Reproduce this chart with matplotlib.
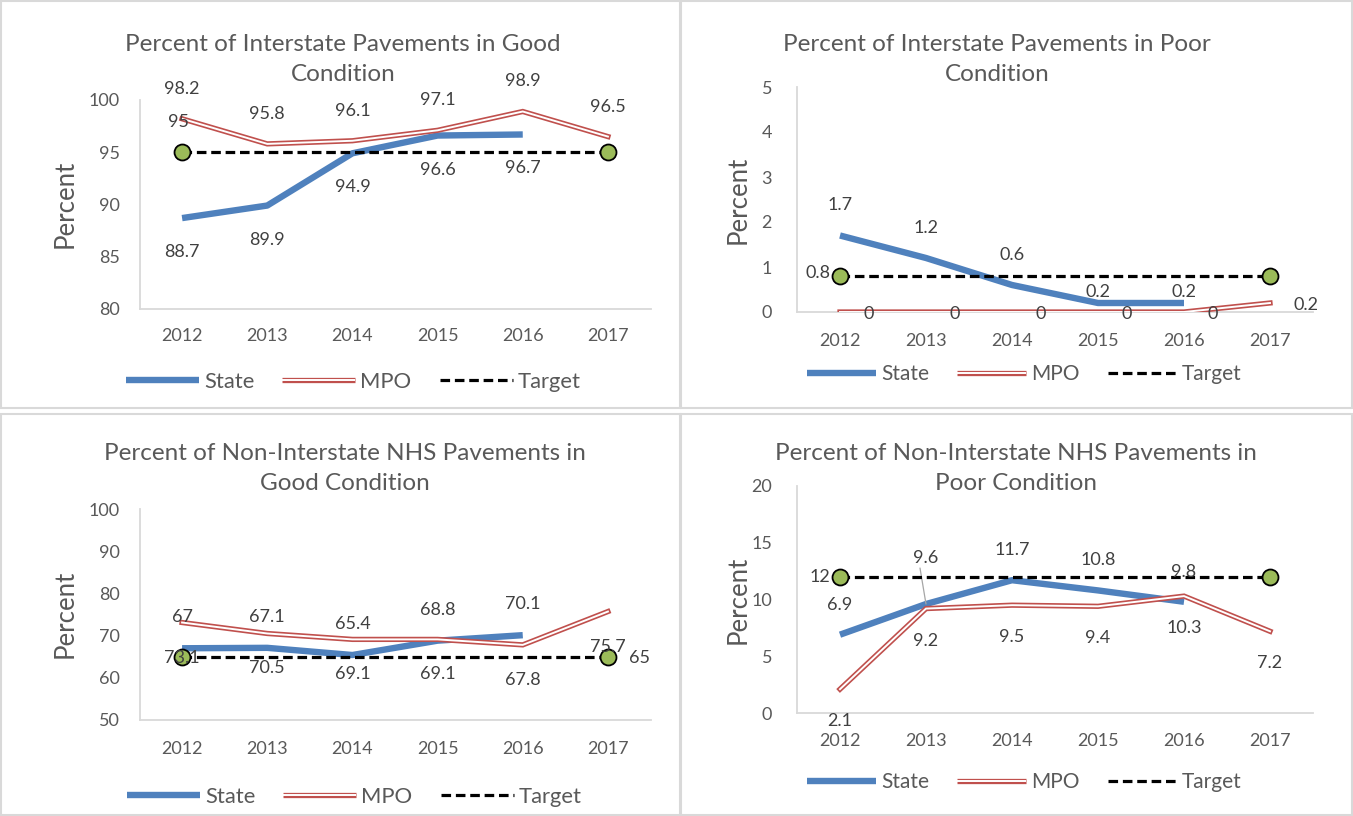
import matplotlib
matplotlib.use("Agg")
import matplotlib.pyplot as plt
from matplotlib.lines import Line2D
from matplotlib.patches import Rectangle
from matplotlib.legend_handler import HandlerTuple

plt.rcParams['font.family'] = ['Lato', 'DejaVu Sans']

# ---------------- data ----------------
years = ['2012', '2013', '2014', '2015', '2016', '2017']

good_int_state = [88.7, 89.9, 94.9, 96.6, 96.7]
good_int_mpo = [98.2, 95.8, 96.1, 97.1, 98.9, 96.5]
good_int_target = [95, 95]

poor_int_state = [1.7, 1.2, 0.6, 0.2, 0.2]
poor_int_mpo = [0, 0, 0, 0, 0, 0.2]
poor_int_target = [0.8, 0.8]

good_nhs_state = [67, 67.1, 65.4, 68.8, 70.1]
good_nhs_mpo = [73.1, 70.5, 69.1, 69.1, 67.8, 75.7]
good_nhs_target = [65, 65]

poor_nhs_state = [6.9, 9.6, 11.7, 10.8, 9.8]
poor_nhs_mpo = [2.1, 9.2, 9.5, 9.4, 10.3, 7.2]
poor_nhs_target = [12, 12]

titles = ['Percent of Interstate Pavements in Good\nCondition',
          'Percent of Interstate Pavements in Poor\nCondition',
          'Percent of Non-Interstate NHS Pavements in\nGood Condition',
          'Percent of Non-Interstate NHS Pavements in\nPoor Condition']

# ---------------- style ----------------
W, H = 1353, 816
BLUE = '#4F81BD'
RED = '#C0504D'
GREEN = '#9BBB59'
TXT = '#595959'
LBL = '#404040'
GRID = '#D9D9D9'

fig = plt.figure(figsize=(W / 100, H / 100), dpi=100)


def px2pt(p):
    return p * 72.0 / 100.0


def fx(x):
    return x / W


def fy(y):
    return 1 - y / H


# panel boxes
for (x0, y0, x1, y1) in [(1, 1, 680, 408), (681, 1, 1352, 408),
                         (1, 414, 680, 815), (681, 414, 1352, 815)]:
    fig.add_artist(Rectangle((fx(x0), fy(y1)), fx(x1 - x0), (y1 - y0) / H,
                             transform=fig.transFigure, fill=False,
                             edgecolor=GRID, lw=1.5))

# axes rectangles in pixel coords: (left, top, right, bottom)
rects = [(139.5, 100, 650.5, 309), (797, 87, 1313, 312),
         (139.5, 509, 650.5, 720), (797, 486, 1313, 713)]
ylims = [(80, 100, 5), (0, 5, 1), (50, 100, 10), (0, 20, 5)]
title_pos = [(343, 59.5), (997, 59.5), (345, 468.5), (1016, 468.5)]
ylabel_pos = [(65, 204), (738, 200), (65, 614), (738, 600)]
legend_pos = [(126, 382), (807, 374), (127, 797), (807, 782)]
legend_fs = [15.8, 15.0, 15.8, 15.0]
legend_hl = [73, 69, 73, 69]
ypads = [20, 25, 20, 25]
xpads = [19, 21, 21, 20]

series = [
    (good_int_state, good_int_mpo, good_int_target),
    (poor_int_state, poor_int_mpo, poor_int_target),
    (good_nhs_state, good_nhs_mpo, good_nhs_target),
    (poor_nhs_state, poor_nhs_mpo, poor_nhs_target),
]

# label placement (px): (dx, dy, ha) per series; dy positive = down
state_off = [(0, 34, 'center'), (0, -30, 'center'), (0, -31, 'center'), (0, -30, 'center')]
mpo_off = [(0, -30, 'center'), (23, 2, 'left'), (0, 35, 'center'), (0, 32, 'center')]
# special per-point vertical offsets: (panel, index) -> dy
state_special = {(1, 3): -11, (1, 4): -11, (3, 1): -46}
target_lbl = [(0, (-4, -30)), (0, (-22, -3)), (1, (32, 1)), (0, (-20, 0))]

x_all = list(range(len(years)))
DASH = (0, (3.0, 1.5))

for i, (rect, yl, (st, mp, tg)) in enumerate(zip(rects, ylims, series)):
    l, t, r, b = rect
    ax = fig.add_axes([fx(l), fy(b), (r - l) / W, (b - t) / H])
    ax.set_xlim(-0.5, len(years) - 0.5)
    ax.set_ylim(yl[0], yl[1])
    ax.set_yticks([yl[0] + k * yl[2] for k in range(int(round((yl[1] - yl[0]) / yl[2])) + 1)])
    ax.set_xticks(x_all)
    ax.set_xticklabels(years)
    for s in ['top', 'right']:
        ax.spines[s].set_visible(False)
    for s in ['left', 'bottom']:
        ax.spines[s].set_color(GRID)
        ax.spines[s].set_linewidth(1.3)
    ax.tick_params(axis='both', length=0, labelsize=13, labelcolor=TXT)
    ax.tick_params(axis='y', pad=px2pt(ypads[i]))
    ax.tick_params(axis='x', pad=px2pt(xpads[i]))
    ax.patch.set_alpha(0)

    xs_state = x_all[:len(st)]
    ax.plot(xs_state, st, color=BLUE, lw=4.6, solid_capstyle='butt', zorder=3)
    ax.plot(x_all, mp, color=RED, lw=3.8, solid_joinstyle='miter', zorder=4)
    ax.plot(x_all, mp, color='white', lw=1.4, solid_joinstyle='miter', zorder=5)
    xt = [x_all[0], x_all[-1]]
    ax.plot(xt, tg, color='black', lw=2.3, ls=DASH, marker='o',
            markersize=11.5, markerfacecolor=GREEN, markeredgecolor='black',
            markeredgewidth=1.3, zorder=6, clip_on=False)

    # data labels
    dx, dy, ha = state_off[i]
    for x, v in zip(xs_state, st):
        ddy = state_special.get((i, x), dy)
        ax.annotate(f'{v:g}', (x, v), xytext=(px2pt(dx), -px2pt(ddy)),
                    textcoords='offset points', ha=ha, va='center',
                    fontsize=13, color=LBL, zorder=7)
    dx, dy, ha = mpo_off[i]
    for x, v in zip(x_all, mp):
        ax.annotate(f'{v:g}', (x, v), xytext=(px2pt(dx), -px2pt(dy)),
                    textcoords='offset points', ha=ha, va='center',
                    fontsize=13, color=LBL, zorder=7, annotation_clip=False)
    k, (tdx, tdy) = target_lbl[i]
    ax.annotate(f'{tg[k]:g}', (xt[k], tg[k]), xytext=(px2pt(tdx), -px2pt(tdy)),
                textcoords='offset points', ha='center', va='center',
                fontsize=13, color=LBL, zorder=7, annotation_clip=False)
    if i == 3:
        ax.annotate('', (1, st[1]), xytext=(px2pt(-6), px2pt(36)),
                    textcoords='offset points',
                    arrowprops=dict(arrowstyle='-', color='#A6A6A6', lw=0.9,
                                    shrinkA=0, shrinkB=0))

    tx, ty = title_pos[i]
    fig.text(fx(tx), fy(ty), titles[i], ha='center', va='center',
             fontsize=17.5, color=TXT, linespacing=1.58)
    lx, ly = ylabel_pos[i]
    fig.text(fx(lx), fy(ly), 'Percent', ha='center', va='center',
             rotation=90, fontsize=18.5, color=TXT)

    h_state = Line2D([], [], color=BLUE, lw=4.6, solid_capstyle='butt')
    h_red = Line2D([], [], color=RED, lw=3.8, solid_capstyle='butt')
    h_white = Line2D([], [], color='white', lw=1.4, solid_capstyle='butt')
    h_tgt = Line2D([], [], color='black', lw=2.3, ls=DASH)
    lx, ly = legend_pos[i]
    fs_px = legend_fs[i] * 100 / 72.0
    fig.legend([h_state, (h_red, h_white), h_tgt], ['State', 'MPO', 'Target'],
               handler_map={tuple: HandlerTuple(ndivide=1, pad=0)},
               loc='center left', bbox_to_anchor=(fx(lx), fy(ly)),
               ncol=3, frameon=False, fontsize=legend_fs[i], labelcolor=TXT,
               handlelength=legend_hl[i] / fs_px, handletextpad=5 / fs_px,
               columnspacing=28 / fs_px, borderpad=0, borderaxespad=0)

fig.savefig('out.png', dpi=100)
